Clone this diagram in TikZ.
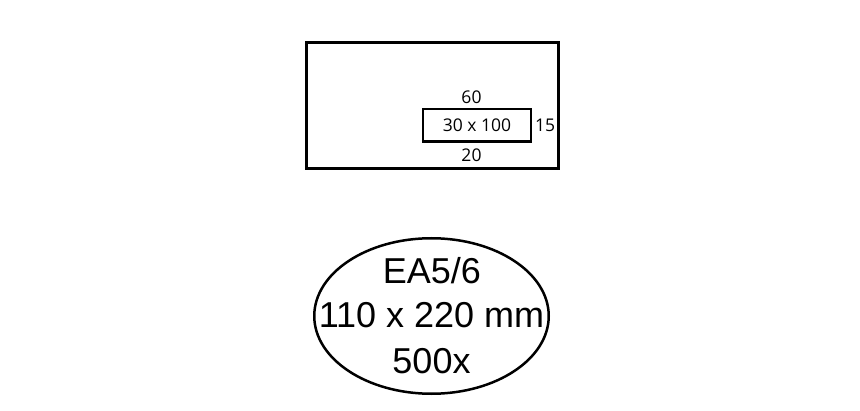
\documentclass[tikz,border=0pt]{standalone}
\usepackage{fontspec}
\setmainfont{Liberation Sans}
\newfontfamily\dimfont{Open Sans}
\usetikzlibrary{positioning,shapes.geometric}
\tikzset{
    frame/.style={draw, line width=2.8pt, inner sep=0pt},
    dimlabel/.style={font=\dimfont\fontsize{17.5}{20}\selectfont, inner sep=0pt},
    infoline/.style={font=\fontsize{36}{45}\selectfont, inner sep=0pt, anchor=base},
}
\begin{document}
\begin{tikzpicture}[x=1pt,y=1pt]
    \useasboundingbox (0,0) rectangle (860,410);
    % envelope with window
    \node[frame, line width=3pt, minimum width=252pt, minimum height=126.3pt] (envelope) at (432.5,304.7) {};
    \node[frame, line width=2.6pt, minimum width=108pt, minimum height=32.7pt, dimlabel] (window) at (477,284.7) {30 x 100};
    \node[dimlabel, above=4.4pt of window.north, anchor=base, xshift=-5.5pt] (top) {60};
    \node[dimlabel, below=19pt of window.south, anchor=base, xshift=-5.5pt] (bottom) {20};
    \node[dimlabel, right=2.5pt of window.base east, anchor=base west] (side) {15};
    % label
    \node[ellipse, draw, line width=2.5pt, minimum width=234.5pt, minimum height=155.5pt, inner sep=0pt] (info) at (431.5,94) {};
    \node[infoline] (title) at (431.8,126.7) {EA5/6};
    \node[infoline] (size) at (431.5,82) {110 x 220 mm};
    \node[infoline] (count) at (431.5,36) {500x};
\end{tikzpicture}
\end{document}
